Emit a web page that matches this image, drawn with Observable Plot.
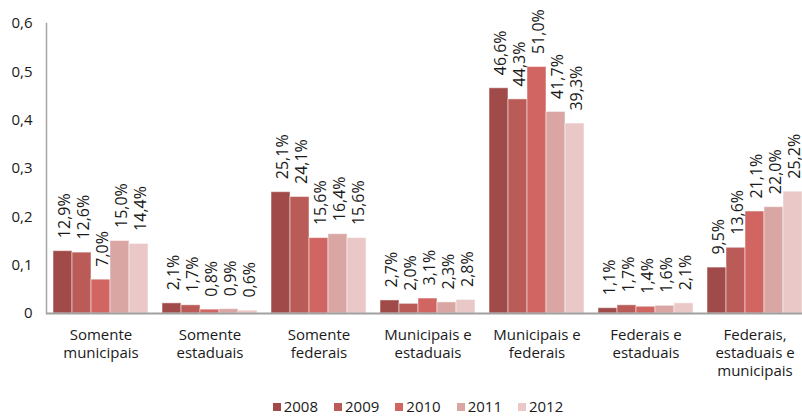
<!DOCTYPE html>
<html>
<head>
<meta charset="utf-8">
<script src="https://cdn.jsdelivr.net/npm/d3@7"></script>
<script src="https://cdn.jsdelivr.net/npm/@observablehq/plot@0.6"></script>
<style>
  body { margin: 0; background: #fff; font-family: "Open Sans", sans-serif; }
  #legend { display: flex; justify-content: center; gap: 16px; margin-top: 9px; padding-left: 34px;
            font-size: 15px; line-height: 15px; height: 15px; color: #1a1a1a; }
  #legend span.item { display: inline-flex; align-items: center; }
  #legend span.sw { display: inline-block; width: 8px; height: 8px; margin-right: 3px; }
</style>
</head>
<body>
<div id="chart"></div>
<div id="legend"></div>
<script>
const categories = [
  "Somente municipais",
  "Somente estaduais",
  "Somente federais",
  "Municipais e estaduais",
  "Municipais e federais",
  "Federais e estaduais",
  "Federais, estaduais e municipais"
];
const tickLabels = [
  "Somente\nmunicipais",
  "Somente\nestaduais",
  "Somente\nfederais",
  "Municipais e\nestaduais",
  "Municipais e\nfederais",
  "Federais e\nestaduais",
  "Federais,\nestaduais e\nmunicipais"
];
const years = ["2008", "2009", "2010", "2011", "2012"];
const values2008 = [0.129, 0.021, 0.251, 0.027, 0.466, 0.011, 0.095];
const values2009 = [0.126, 0.017, 0.241, 0.020, 0.443, 0.017, 0.136];
const values2010 = [0.070, 0.008, 0.156, 0.031, 0.510, 0.014, 0.211];
const values2011 = [0.150, 0.009, 0.164, 0.023, 0.417, 0.016, 0.220];
const values2012 = [0.144, 0.006, 0.156, 0.028, 0.393, 0.021, 0.252];
const yTicks = [0, 0.1, 0.2, 0.3, 0.4, 0.5, 0.6];
const colors = ["#a04b49", "#bb5b57", "#d06561", "#d9a6a4", "#e9c8c7"];

const series = [values2008, values2009, values2010, values2011, values2012];
const data = [];
categories.forEach((c, i) => {
  years.forEach((y, j) => data.push({cat: c, year: y, value: series[j][i]}));
});

const comma = s => s.replace(".", ",");
const pct = v => comma((v * 100).toFixed(1)) + "%";
const yfmt = v => v === 0 ? "0" : comma(v.toFixed(1));

const chart = Plot.plot({
  width: 802,
  height: 390,
  marginLeft: 44,
  marginRight: -9,
  marginTop: 23,
  marginBottom: 77,
  style: {fontFamily: "Open Sans", fontSize: "15px", color: "#1a1a1a", background: "#fff"},
  fx: {domain: categories, paddingInner: 0, paddingOuter: 0, label: null},
  x: {domain: years, paddingInner: 0, paddingOuter: 0.35, axis: null},
  y: {domain: [0, 0.6], axis: null},
  color: {domain: years, range: colors},
  marks: [
    Plot.barY(data, {fx: "cat", x: "year", y: "value", fill: "year",
      stroke: "white", strokeOpacity: 0.5, strokeWidth: 1}),
    Plot.ruleY([0], {stroke: "#a0a0a0", strokeWidth: 2}),
    Plot.frame({anchor: "left", facetAnchor: "left", stroke: "#a6a6a6", strokeWidth: 1.5}),
    Plot.axisY({ticks: yTicks, tickFormat: yfmt, tickSize: 0, tickPadding: 14, label: null, fontSize: 15}),
    Plot.axisFx({anchor: "bottom", tickSize: 0, tickPadding: 14, label: null, lineHeight: 1.2, fontSize: 15,
      tickFormat: c => tickLabels[categories.indexOf(c)]}),
    Plot.text(data, {fx: "cat", x: "year", y: "value", text: d => pct(d.value),
      rotate: -90, textAnchor: "start", lineAnchor: "middle", dy: -13, dx: 2, fontSize: 16, fill: "#1a1a1a"})
  ]
});
document.getElementById("chart").appendChild(chart);

const legend = d3.select("#legend");
years.forEach((y, i) => {
  const item = legend.append("span").attr("class", "item");
  item.append("span").attr("class", "sw").style("background", colors[i]);
  item.append("span").text(y);
});
</script>
</body>
</html>
